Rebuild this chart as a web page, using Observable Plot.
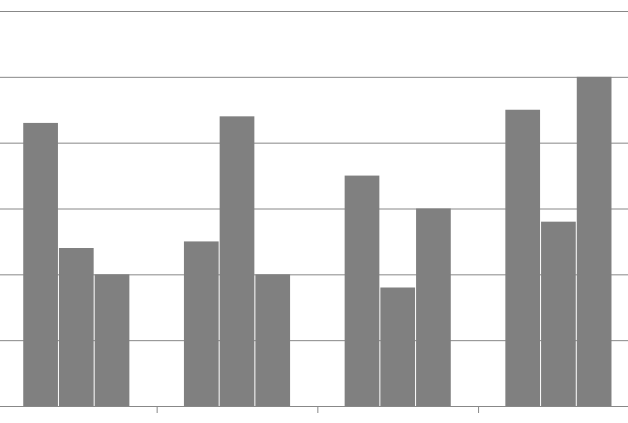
<!DOCTYPE html>
<html>
<head>
<meta charset="utf-8">
<script src="https://cdn.jsdelivr.net/npm/d3@7"></script>
<script src="https://cdn.jsdelivr.net/npm/@observablehq/plot@0.6"></script>
<style>
  html, body { margin: 0; padding: 0; background: #fff; }
</style>
</head>
<body>
<div id="chart"></div>
<script>
const groups = [0, 1, 2, 3];
const seriesA = [43, 25, 35, 45];
const seriesB = [24, 44, 18, 28];
const seriesC = [20, 20, 30, 50];
const yTicks = [0, 10, 20, 30, 40, 50, 60];
const xTicks = [0.5, 1.5, 2.5];

const series = [seriesA, seriesB, seriesC];
const groupWidth = 2 / 3;
const barWidth = groupWidth / series.length;
const data = [];
groups.forEach((g, i) => {
  series.forEach((s, j) => {
    data.push({
      x1: g - groupWidth / 2 + j * barWidth,
      x2: g - groupWidth / 2 + (j + 1) * barWidth,
      y: s[i]
    });
  });
});

const chart = Plot.plot({
  width: 628,
  height: 423,
  marginTop: 11,
  marginBottom: 17,
  marginLeft: 0,
  marginRight: 0,
  style: { background: "#fff", color: "#888" },
  x: { type: "linear", domain: [-0.4748, 3.433], ticks: xTicks, tickFormat: () => "", tickSize: 7, label: null },
  y: { domain: [0, 60], axis: null },
  marks: [
    Plot.ruleY(yTicks, { stroke: "#888", strokeWidth: 1 }),
    Plot.rectY(data, { x1: "x1", x2: "x2", y: "y", fill: "#808080", insetLeft: 0.5, insetRight: 0.5 })
  ]
});
document.getElementById("chart").appendChild(chart);
</script>
</body>
</html>
